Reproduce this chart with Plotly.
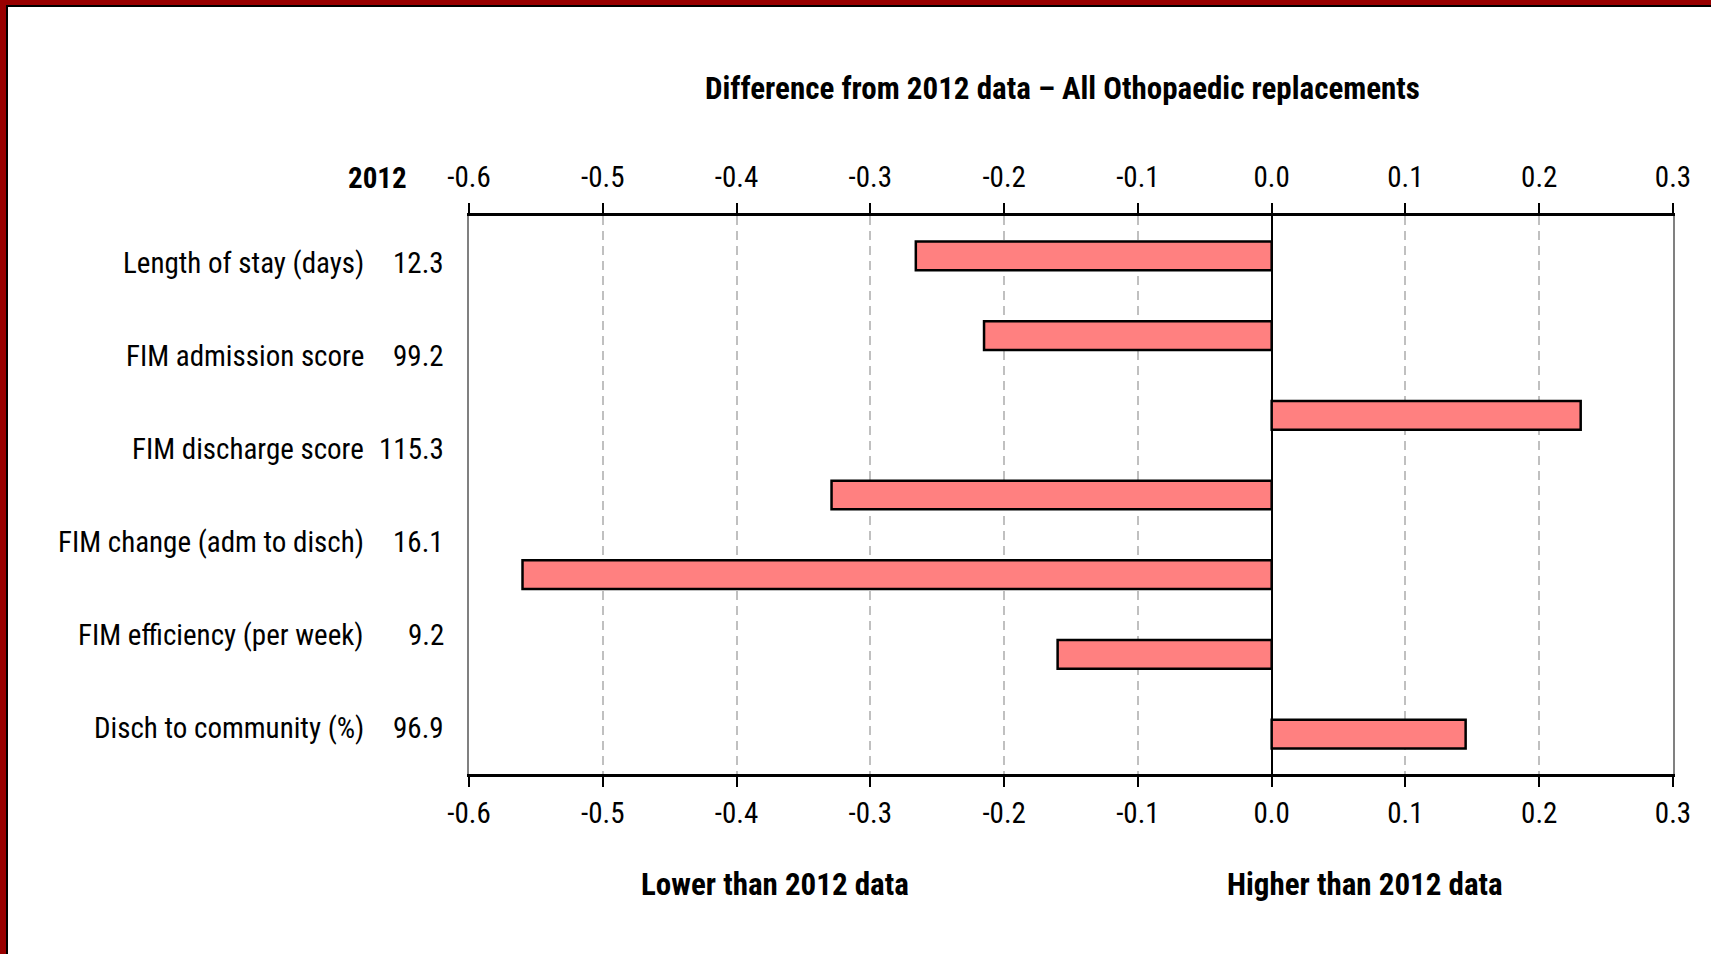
import plotly.graph_objects as go

# ---- data ----
bar_values = [-0.266, -0.215, 0.231, -0.329, -0.560, -0.160, 0.145]
row_labels = ["Length of stay (days)", "FIM admission score", "FIM discharge score",
              "FIM change (adm to disch)", "FIM efficiency (per week)", "Disch to community (%)"]
values_2012 = ["12.3", "99.2", "115.3", "16.1", "9.2", "96.9"]
tick_vals = [-0.6, -0.5, -0.4, -0.3, -0.2, -0.1, 0.0, 0.1, 0.2, 0.3]
tick_text = ["-0.6", "-0.5", "-0.4", "-0.3", "-0.2", "-0.1", "0.0", "0.1", "0.2", "0.3"]
title_text = "Difference from 2012 data – All Othopaedic replacements"
lower_text = "Lower than 2012 data"
higher_text = "Higher than 2012 data"
header_text = "2012"

W, H = 1711, 954
L, R, T, B = 469, 1673, 216, 774
pw, ph = R - L, B - T
FONT = "Liberation Sans Narrow, Roboto Condensed, Liberation Sans, Arial Narrow, sans-serif"
FS = 29

def px(x):
    return (x - L) / pw

def py(y):
    return (B - y) / ph

fig = go.Figure()
fig.add_trace(go.Bar(
    x=bar_values, y=list(range(len(bar_values))), orientation="h",
    marker=dict(color="#FF8080", line=dict(color="black", width=2.5)),
    width=0.36, xaxis="x", yaxis="y", showlegend=False, hoverinfo="x",
))
fig.add_trace(go.Scatter(x=[-0.6, 0.3], y=[0, 0], xaxis="x2", yaxis="y",
                         mode="markers", marker=dict(opacity=0), showlegend=False,
                         hoverinfo="skip"))

axis_common = dict(
    range=[-0.6, 0.3], tickvals=tick_vals, ticktext=tick_text,
    ticks="outside", ticklen=10, tickwidth=2, tickcolor="black",
    showline=True, linecolor="black", linewidth=3,
    tickfont=dict(family=FONT, size=FS, color="black"),
)
fig.update_layout(
    width=W, height=H,
    margin=dict(l=L, r=W - R, t=T, b=H - B, pad=0),
    paper_bgcolor="white", plot_bgcolor="white",
    xaxis=dict(**axis_common, side="bottom", showgrid=True, gridcolor="#C0C0C0",
               griddash="9px,6px", gridwidth=2, zeroline=True, zerolinecolor="black",
               zerolinewidth=2, ticklabelstandoff=1),
    xaxis2=dict(**axis_common, side="top", overlaying="x", showgrid=False,
                zeroline=False, matches="x", ticklabelstandoff=4),
    yaxis=dict(range=[len(bar_values) - 0.5, -0.5], showticklabels=False, ticks="",
               showgrid=False, zeroline=False, showline=True, linecolor="#808080",
               linewidth=2, mirror=True),
    bargap=0.6,
)

ann = []
n = len(row_labels)
for i, (lab, val) in enumerate(zip(row_labels, values_2012)):
    yc = 1 - (i + 0.5) / n
    ann.append(dict(text=lab, x=px(366), y=yc, xref="paper", yref="paper",
                    xanchor="right", yanchor="middle", showarrow=False,
                    font=dict(family=FONT, size=FS, color="black")))
    ann.append(dict(text=val, x=px(446), y=yc, xref="paper", yref="paper",
                    xanchor="right", yanchor="middle", showarrow=False,
                    font=dict(family=FONT, size=FS, color="black")))
ann.append(dict(text="<b>%s</b>" % header_text, x=px(409), y=py(178), xref="paper", yref="paper",
                xanchor="right", yanchor="middle", showarrow=False,
                font=dict(family=FONT, size=FS, color="black")))
ann.append(dict(text="<b>%s</b>" % title_text, x=px(1062), y=py(89), xref="paper", yref="paper",
                xanchor="center", yanchor="middle", showarrow=False,
                font=dict(family=FONT, size=31, color="black")))
ann.append(dict(text="<b>%s</b>" % lower_text, x=px(775), y=py(884), xref="paper", yref="paper",
                xanchor="center", yanchor="middle", showarrow=False,
                font=dict(family=FONT, size=31, color="black")))
ann.append(dict(text="<b>%s</b>" % higher_text, x=px(1365), y=py(884), xref="paper", yref="paper",
                xanchor="center", yanchor="middle", showarrow=False,
                font=dict(family=FONT, size=31, color="black")))
fig.update_layout(annotations=ann)

shapes = [
    dict(type="rect", xref="paper", yref="paper", x0=px(0), x1=px(W), y0=py(0), y1=py(5),
         fillcolor="#990000", line=dict(width=0), layer="above"),
    dict(type="rect", xref="paper", yref="paper", x0=px(6), x1=px(W), y0=py(5), y1=py(7),
         fillcolor="black", line=dict(width=0), layer="above"),
    dict(type="rect", xref="paper", yref="paper", x0=px(0), x1=px(6), y0=py(H), y1=py(0),
         fillcolor="#990000", line=dict(width=0), layer="above"),
    dict(type="rect", xref="paper", yref="paper", x0=px(6), x1=px(8), y0=py(H), y1=py(5),
         fillcolor="black", line=dict(width=0), layer="above"),
]
fig.update_layout(shapes=shapes)

fig.write_html("out.html", config={"displayModeBar": False},
               post_script="document.body.style.margin='0';document.body.style.overflow='hidden';")
